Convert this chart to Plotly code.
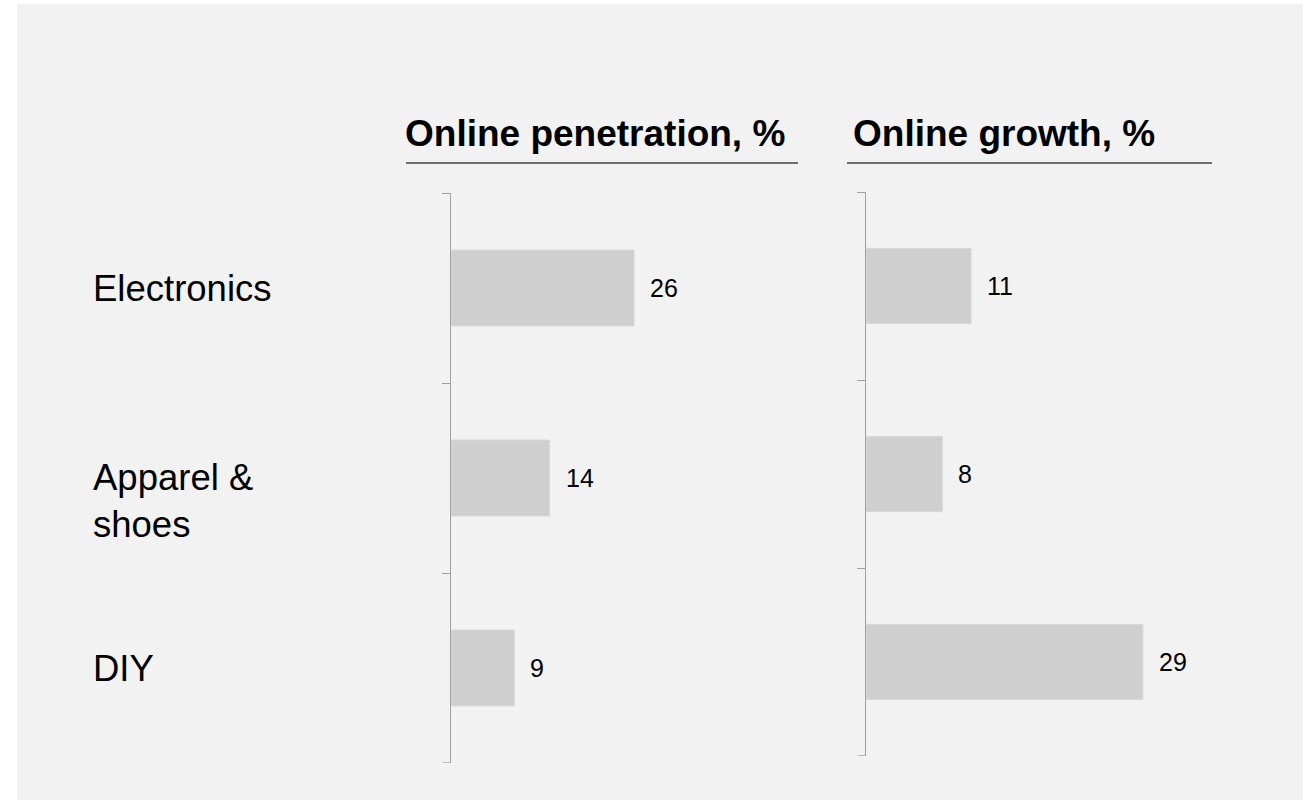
import plotly.graph_objects as go

# Data
categories = ["Electronics", "Apparel &<br>shoes", "DIY"]
penetration = [26, 14, 9]
growth = [11, 8, 29]
panel_titles = ["Online penetration, %", "Online growth, %"]

W, H = 1311, 800
BG = "#f2f2f2"
BAR = "#d0cfd0"
AXIS = "#a0a0a0"
FONT = "Arial, Liberation Sans, sans-serif"
TICK_LEN = 8


def px(x):
    return x / W


def py(y):
    return 1 - y / H


fig = go.Figure()

# two bar panels
fig.add_trace(go.Bar(
    x=penetration, y=categories, orientation="h", width=0.4,
    marker=dict(color=BAR, line=dict(color="#dad9da", width=1)),
    xaxis="x", yaxis="y", hoverinfo="skip", showlegend=False,
))
fig.add_trace(go.Bar(
    x=growth, y=categories, orientation="h", width=0.4,
    marker=dict(color=BAR, line=dict(color="#dad9da", width=1)),
    xaxis="x2", yaxis="y2", hoverinfo="skip", showlegend=False,
))

yaxis_style = dict(
    type="category",
    categoryorder="array",
    categoryarray=categories,
    range=[2.5, -0.5],
    showline=True, linecolor=AXIS, linewidth=1.3,
    ticks="outside", tickson="boundaries", ticklen=TICK_LEN,
    tickcolor=AXIS, tickwidth=1.3,
    showticklabels=False, showgrid=False, zeroline=False,
    fixedrange=True,
)

LEFT_AXIS_X, RIGHT_AXIS_X = 451, 866

fig.update_layout(
    width=W, height=H,
    margin=dict(l=0, r=0, t=0, b=0),
    paper_bgcolor=BG,
    plot_bgcolor="rgba(0,0,0,0)",
    font=dict(family=FONT, color="black"),
    xaxis=dict(domain=[px(LEFT_AXIS_X), px(LEFT_AXIS_X + 50 * 7.04)], range=[0, 50],
               visible=False, fixedrange=True),
    yaxis=dict(domain=[py(763), py(193)], anchor="x", **yaxis_style),
    xaxis2=dict(domain=[px(RIGHT_AXIS_X), px(RIGHT_AXIS_X + 45 * 9.55)], range=[0, 45],
                visible=False, fixedrange=True),
    yaxis2=dict(domain=[py(756), py(192)], anchor="x2", **yaxis_style),
)

shapes = [
    # white frame around the grey panel (left, right, top)
    dict(type="rect", xref="paper", yref="paper",
         x0=0, x1=px(17), y0=0, y1=1,
         fillcolor="white", line=dict(width=0), layer="below"),
    dict(type="rect", xref="paper", yref="paper",
         x0=px(1303), x1=1, y0=0, y1=1,
         fillcolor="white", line=dict(width=0), layer="below"),
    dict(type="rect", xref="paper", yref="paper",
         x0=0, x1=1, y0=py(4), y1=1,
         fillcolor="white", line=dict(width=0), layer="below"),
    # title underlines
    dict(type="line", xref="paper", yref="paper",
         x0=px(406), x1=px(798), y0=py(163), y1=py(163),
         line=dict(color="#404040", width=1.5)),
    dict(type="line", xref="paper", yref="paper",
         x0=px(847), x1=px(1212), y0=py(163), y1=py(163),
         line=dict(color="#404040", width=1.5)),
]

# closing tick at the bottom boundary of each category axis
for yr, ax_x in [("y", LEFT_AXIS_X), ("y2", RIGHT_AXIS_X)]:
    shapes.append(dict(
        type="line", xref="paper", yref=yr,
        x0=px(ax_x - TICK_LEN), x1=px(ax_x), y0=2.5, y1=2.5,
        line=dict(color=AXIS, width=1.3),
    ))

annotations = []
# panel titles
for title, x0 in zip(panel_titles, [403, 851]):
    annotations.append(dict(
        text=f"<b>{title}</b>", xref="paper", yref="paper",
        x=px(x0), y=py(133.5), xanchor="left", yanchor="middle",
        showarrow=False, font=dict(size=37, family=FONT, color="black"),
    ))

# category labels, first line centred on its row
LINE_H = 46.5
for cat in categories:
    n_lines = cat.count("<br>") + 1
    annotations.append(dict(
        text=cat, xref="paper", yref="y", x=px(91), y=cat,
        xanchor="left", yanchor="middle", align="left",
        yshift=-(n_lines - 1) * LINE_H / 2,
        showarrow=False, font=dict(size=36.5, family=FONT, color="black"),
    ))

# value labels
for xr, yr, vals in [("x", "y", penetration), ("x2", "y2", growth)]:
    for cat, v in zip(categories, vals):
        annotations.append(dict(
            text=str(v), xref=xr, yref=yr, x=v, y=cat,
            xanchor="left", yanchor="middle", xshift=14,
            showarrow=False, font=dict(size=25, family=FONT, color="black"),
        ))

fig.update_layout(shapes=shapes, annotations=annotations)

fig.write_html("out.html", config={"displayModeBar": False})
